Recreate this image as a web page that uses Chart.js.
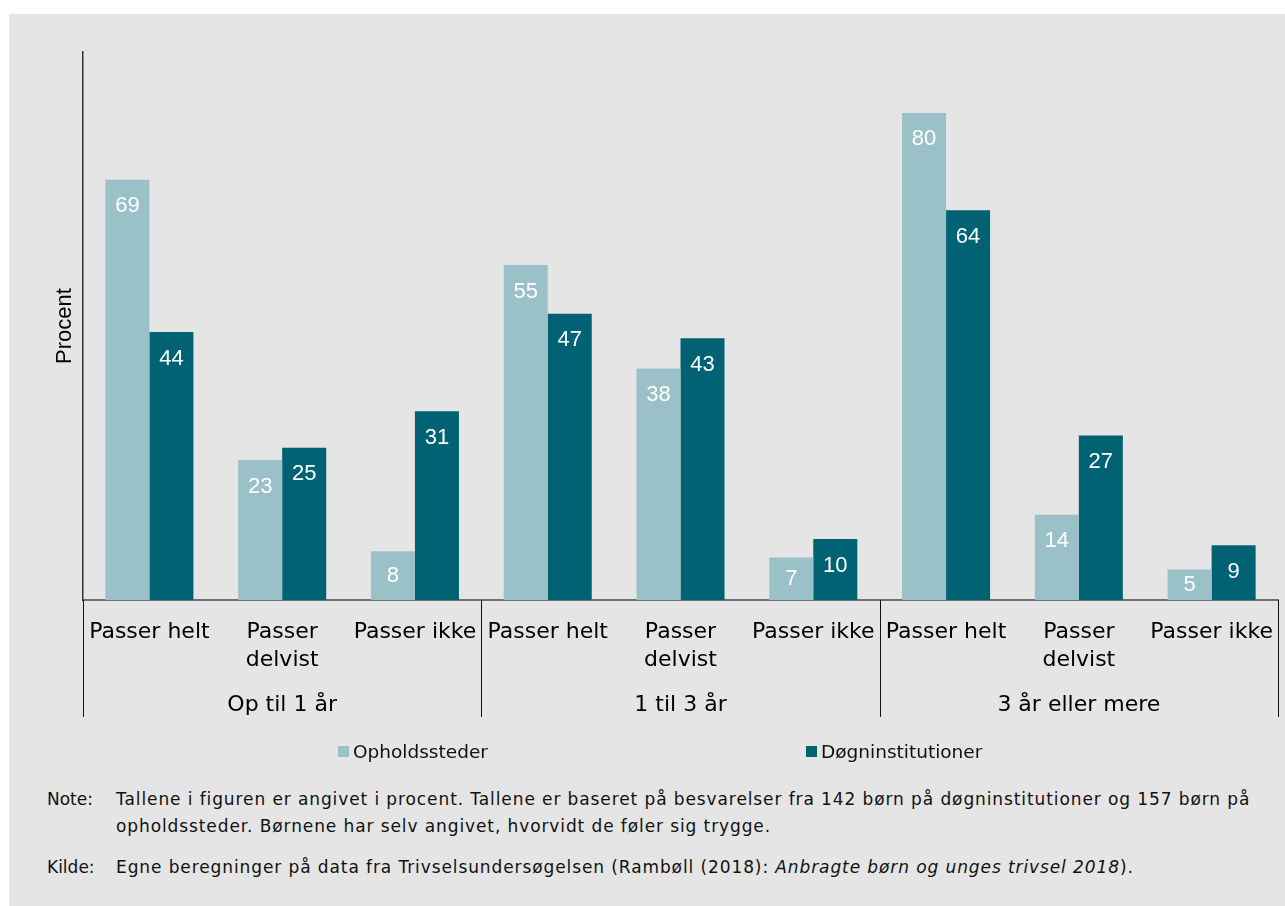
<!DOCTYPE html>
<html>
<head>
<meta charset="utf-8">
<script src="https://cdn.jsdelivr.net/npm/chart.js@4/dist/chart.umd.min.js"></script>
<style>
  body { margin: 0; background: #fff; width: 1285px; height: 906px; overflow: hidden; }
  #panel { position: absolute; left: 9px; top: 14px; width: 1276px; height: 892px; background: #e5e5e5; }
  #chartBox { position: absolute; left: 0; top: 0; width: 1276px; height: 740px; }
  .legend { position: absolute; top: 0; font: 18.5px "DejaVu Sans", sans-serif; color: #111; }
  .legend span.box { position: absolute; width: 11px; height: 11px; }
  .legend span.text { position: absolute; white-space: nowrap; line-height: 22px; }
  #notes { position: absolute; left: 38px; top: 772px; font: 17px "DejaVu Sans", sans-serif; color: #111; line-height: 27px; }
  .row { display: grid; grid-template-columns: 69px 1160px; }
  .row div + div { letter-spacing: 0.9px; }
  .row + .row { margin-top: 14px; }
</style>
</head>
<body>
<div id="panel">
  <div id="chartBox"><canvas id="chart" width="1276" height="740"></canvas></div>
  <div class="legend" id="legend1"><span class="box" style="left:329px;top:732px;background:#9bc1c8"></span><span class="text" style="left:344px;top:727px">Opholdssteder</span></div>
  <div class="legend" id="legend2"><span class="box" style="left:797px;top:732px;background:#006272"></span><span class="text" style="left:812px;top:727px">Døgninstitutioner</span></div>
  <div id="notes">
    <div class="row"><div>Note:</div><div>Tallene i figuren er angivet i procent. Tallene er baseret på besvarelser fra 142 børn på døgninstitutioner og 157 børn på opholdssteder. Børnene har selv angivet, hvorvidt de føler sig trygge.</div></div>
    <div class="row"><div>Kilde:</div><div>Egne beregninger på data fra Trivselsundersøgelsen (Rambøll (2018): <i>Anbragte børn og unges trivsel 2018</i>).</div></div>
  </div>
</div>
<script>
const categories = ["Passer helt", ["Passer", "delvist"], "Passer ikke",
                    "Passer helt", ["Passer", "delvist"], "Passer ikke",
                    "Passer helt", ["Passer", "delvist"], "Passer ikke"];
const groups = ["Op til 1 år", "1 til 3 år", "3 år eller mere"];
const opholdssteder = [69, 23, 8, 55, 38, 7, 80, 14, 5];
const doegninstitutioner = [44, 25, 31, 47, 43, 10, 64, 27, 9];
const seriesNames = ["Opholdssteder", "Døgninstitutioner"];
const colors = ["#9bc1c8", "#006272"];

// white value labels inside the top of each bar
const valueLabels = {
  id: "valueLabels",
  afterDatasetsDraw(chart) {
    const ctx = chart.ctx;
    ctx.save();
    ctx.fillStyle = "#fff";
    ctx.font = '22px "Liberation Sans", Arial, sans-serif';
    ctx.textAlign = "center";
    ctx.textBaseline = "middle";
    chart.data.datasets.forEach((ds, i) => {
      chart.getDatasetMeta(i).data.forEach((bar, j) => {
        const h = bar.base - bar.y;
        ctx.fillText(String(ds.data[j]), bar.x, bar.y + Math.min(26.5, h / 2));
      });
    });
    ctx.restore();
  }
};

// group labels and separators under the category axis
const groupAxis = {
  id: "groupAxis",
  afterDraw(chart) {
    const ctx = chart.ctx;
    const x = chart.scales.x;
    const per = categories.length / groups.length;
    const catW = x.width / categories.length;
    const top = chart.chartArea.bottom;
    const bottom = 703;
    ctx.save();
    ctx.strokeStyle = "#111";
    ctx.lineWidth = 1;
    for (let g = 0; g <= groups.length; g++) {
      const px = Math.round(x.left + g * per * catW) + 0.5;
      ctx.beginPath();
      ctx.moveTo(px, top);
      ctx.lineTo(px, bottom);
      ctx.stroke();
    }
    ctx.fillStyle = "#000";
    ctx.font = '22px "DejaVu Sans", Verdana, sans-serif';
    ctx.textAlign = "center";
    ctx.textBaseline = "middle";
    groups.forEach((label, g) => {
      const a = x.getPixelForValue(g * per) - catW / 2;
      const b = x.getPixelForValue(g * per + per - 1) + catW / 2;
      ctx.fillText(label, (a + b) / 2, 691);
    });
    ctx.restore();
  }
};

new Chart(document.getElementById("chart"), {
  type: "bar",
  data: {
    labels: categories,
    datasets: [
      { label: seriesNames[0], data: opholdssteder, backgroundColor: colors[0] },
      { label: seriesNames[1], data: doegninstitutioner, backgroundColor: colors[1] }
    ]
  },
  options: {
    responsive: false,
    animation: false,
    events: [],
    layout: { padding: { top: 38, right: 7, left: 43, bottom: 0 } },
    barPercentage: 1,
    categoryPercentage: 0.663,
    plugins: { legend: { display: false }, tooltip: { enabled: false } },
    scales: {
      x: {
        grid: { display: false, drawTicks: false },
        border: { display: true, color: "#707070", width: 2 },
        ticks: {
          color: "#000",
          padding: 18,
          maxRotation: 0,
          autoSkip: false,
          font: { family: '"DejaVu Sans", Verdana, sans-serif', size: 22, lineHeight: 1.27 }
        },
        afterFit: s => { s.height = 154; s.paddingLeft = 0; s.paddingRight = 0; }
      },
      y: {
        min: 0,
        max: 90,
        grid: { display: false, drawTicks: false },
        border: { display: true, color: "#333", width: 1.5 },
        ticks: { display: false },
        title: {
          display: true,
          text: "Procent",
          color: "#000",
          padding: 0,
          font: { family: '"Liberation Sans", Arial, sans-serif', size: 22 }
        },
        afterFit: s => { s.width = 31; }
      }
    }
  },
  plugins: [valueLabels, groupAxis]
});
</script>
</body>
</html>
